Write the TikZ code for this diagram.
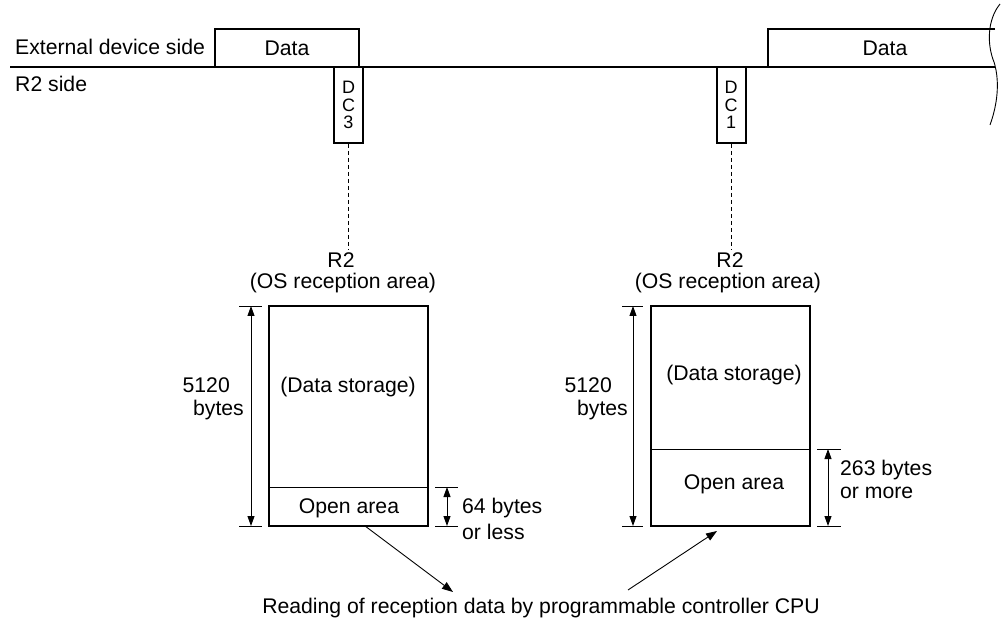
\documentclass[tikz,border=0pt]{standalone}
\usepackage{fontspec}
\setmainfont{Liberation Sans}
\usetikzlibrary{arrows.meta}
\begin{document}
\begin{tikzpicture}[x=1pt,y=-1pt,
  txt/.style={inner sep=0pt,font=\fontsize{21.2}{25}\selectfont},
  small/.style={inner sep=0pt,font=\fontsize{18}{17.5}\selectfont,align=center},
  thickline/.style={line width=2pt},
  memline/.style={line width=1.8pt},
  thinline/.style={line width=0.9pt},
  dimarrow/.style={line width=0.9pt,{Triangle[length=10pt,width=7pt]}-{Triangle[length=10pt,width=7pt]}},
  readarrow/.style={line width=0.9pt,-{Triangle[length=11pt,width=8pt]}},
  dashedline/.style={line width=0.9pt,dash pattern=on 4pt off 3pt},
  databox/.style={draw,line width=2pt,inner sep=0pt,minimum height=38pt,font=\fontsize{21.2}{25}\selectfont},
  dcbox/.style={draw,line width=2pt,inner sep=0pt,minimum width=29pt,minimum height=76pt,small}
]
\useasboundingbox (0,0) rectangle (1002,620);

% timing line
\coordinate (lineL) at (10,67);
\coordinate (lineR) at (995,67);
\draw[thickline] (lineL) -- (lineR);

\node[txt,anchor=west] (ext) at (15,47) {External device side};
\node[txt,anchor=west] (r2side) at (15,84) {R2 side};

\node[databox,minimum width=144pt] (data1) at (287,48) {Data};
\node[dcbox] (dc3) at (348.5,105) {D\\C\\3};
\node[dcbox] (dc1) at (731,105) {D\\C\\1};

\coordinate (d2tr) at (995,29);
\coordinate (d2tl) at (768,29);
\coordinate (d2bl) at (768,67);
\draw[thickline] (d2tr) -- (d2tl) -- (d2bl);
\node[txt] (data2) at (885,48) {Data};

% break mark
\draw[thinline] (1000,4) .. controls (987,20) and (987,45) .. (994,62)
  .. controls (999,78) and (999,100) .. (990,125);

% left memory
\coordinate (m1tl) at (269,306);
\coordinate (m1br) at (428,526);
\draw[memline] (m1tl) rectangle (m1br);
\coordinate (m1dl) at (269,487);
\coordinate (m1dr) at (428,487);
\draw[thinline] (m1dl) -- (m1dr);
\node[txt] (r2a) at (341,260) {R2};
\node[txt] (osa) at (343,283) {(OS reception area)};
\draw[dashedline] (dc3.south) -- (348.5,250);
\node[txt] (ds1) at (348,387) {(Data storage)};
\node[txt] (oa1) at (349,508) {Open area};
% left dimension
\draw[thinline] (239,306) -- (262,306);
\draw[thinline] (239,526) -- (262,526);
\draw[dimarrow] (251,306) -- (251,526);
\node[txt,anchor=east] (n5120a) at (230,385) {5120};
\node[txt,anchor=east] (bya) at (244,410) {bytes};
% right small dimension
\draw[thinline] (435,487) -- (458,487);
\draw[thinline] (435,526) -- (458,526);
\draw[dimarrow] (447,487) -- (447,526);
\node[txt,anchor=west] (b64) at (462,508) {64 bytes};
\node[txt,anchor=west] (less) at (462,532) {or less};

% right memory
\coordinate (m2tl) at (651,306);
\coordinate (m2br) at (810,526);
\draw[memline] (m2tl) rectangle (m2br);
\coordinate (m2dl) at (651,449);
\coordinate (m2dr) at (810,449);
\draw[thinline] (m2dl) -- (m2dr);
\node[txt] (r2b) at (730,260) {R2};
\node[txt] (osb) at (728,283) {(OS reception area)};
\draw[dashedline] (dc1.south) -- (731,250);
\node[txt] (ds2) at (734,375) {(Data storage)};
\node[txt] (oa2) at (734,484) {Open area};
\draw[thinline] (622,306) -- (643,306);
\draw[thinline] (622,526) -- (643,526);
\draw[dimarrow] (633,306) -- (633,526);
\node[txt,anchor=east] (n5120b) at (612,385) {5120};
\node[txt,anchor=east] (byb) at (628,410) {bytes};
\draw[thinline] (817,449) -- (841,449);
\draw[thinline] (817,526) -- (841,526);
\draw[dimarrow] (828,449) -- (828,526);
\node[txt,anchor=west] (b263) at (840,470) {263 bytes};
\node[txt,anchor=west] (more) at (840,493) {or more};

% reading
\node[txt] (read) at (541,608) {Reading of reception data by programmable controller CPU};
\coordinate (a1s) at (365,526);
\coordinate (a1e) at (453,592);
\draw[readarrow] (a1s) -- (a1e);
\coordinate (a2s) at (628,590);
\coordinate (a2e) at (717,531);
\draw[readarrow] (a2s) -- (a2e);
\end{tikzpicture}
\end{document}
